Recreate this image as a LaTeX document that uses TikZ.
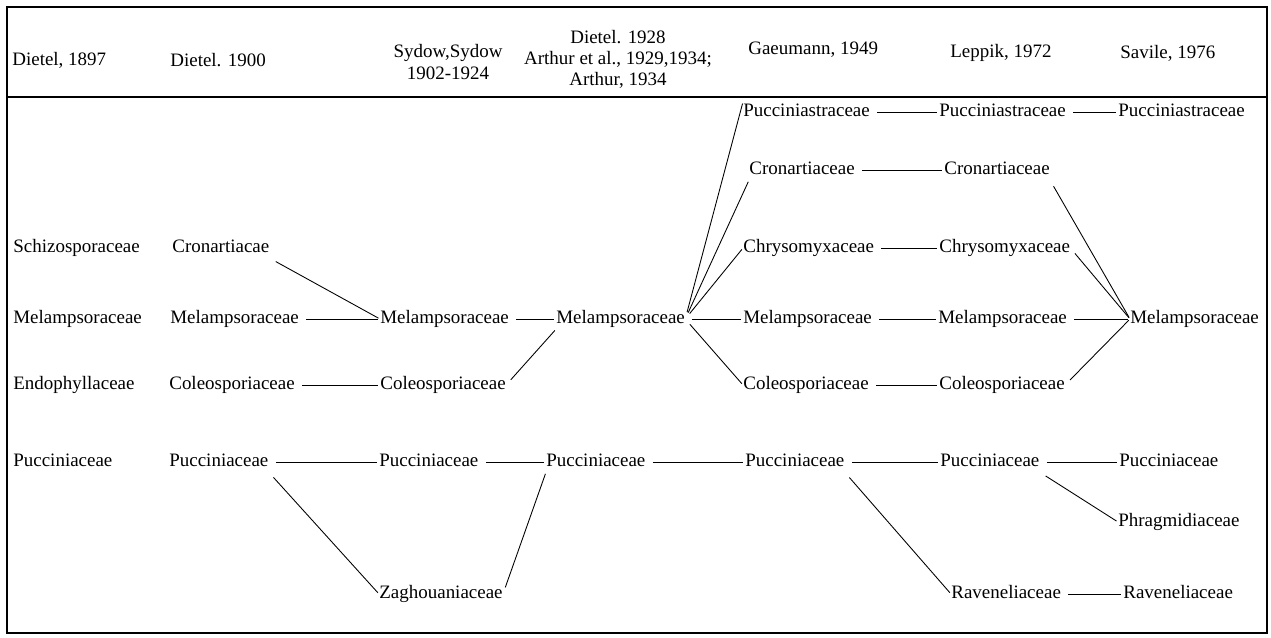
\documentclass[tikz,border=0pt]{standalone}
\usepackage{fontspec}
\setmainfont{Liberation Serif}

\begin{document}
\begin{tikzpicture}[x=0.02cm,y=-0.02cm,font=\fontsize{10.8}{12}\selectfont,
  fam/.style={anchor=west,inner xsep=0pt,inner ysep=1pt,text height=1.6ex,text depth=.4ex},
  hd/.style={align=center,inner sep=0pt},
  lnk/.style={line width=.5pt,shorten <=4pt,shorten >=1pt}]
\useasboundingbox (0,0) rectangle (1271,637);
\draw[line width=.9pt] (7,7) rectangle (1267,633);
\draw[line width=.9pt] (7,97)--(1267,97);
\node[hd,anchor=west] (h1) at (12,60) {Dietel, 1897};
\node[hd,anchor=west] (h2) at (170,60) {Dietel. 1900};
\node[hd] (h3) at (448,62) {Sydow,Sydow\\1902-1924};
\node[hd] (h4) at (618,59) {Dietel. 1928\\Arthur et al., 1929,1934;\\Arthur, 1934};
\node[hd,anchor=west] (h5) at (748,50) {Gaeumann, 1949};
\node[hd,anchor=west] (h6) at (950,53) {Leppik, 1972};
\node[hd,anchor=west] (h7) at (1120,53) {Savile, 1976};
\node[fam] (asch) at (13,248) {Schizosporaceae};
\node[fam] (amel) at (13,319) {Melampsoraceae};
\node[fam] (aend) at (13,385) {Endophyllaceae};
\node[fam] (apuc) at (13,462) {Pucciniaceae};
\node[fam] (bcro) at (172,248) {Cronartiacae};
\node[fam] (bmel) at (170,319) {Melampsoraceae};
\node[fam] (bcol) at (169,385) {Coleosporiaceae};
\node[fam] (bpuc) at (169,462) {Pucciniaceae};
\node[fam] (cmel) at (380,319) {Melampsoraceae};
\node[fam] (ccol) at (380,385) {Coleosporiaceae};
\node[fam] (cpuc) at (379,462) {Pucciniaceae};
\node[fam] (czag) at (379,594) {Zaghouaniaceae};
\node[fam] (dmel) at (556,319) {Melampsoraceae};
\node[fam] (dpuc) at (546,462) {Pucciniaceae};
\node[fam] (gpst) at (743,112) {Pucciniastraceae};
\node[fam] (gcro) at (749,170) {Cronartiaceae};
\node[fam] (gchr) at (743,248) {Chrysomyxaceae};
\node[fam] (gmel) at (743,319) {Melampsoraceae};
\node[fam] (gcol) at (743,385) {Coleosporiaceae};
\node[fam] (gpuc) at (745,462) {Pucciniaceae};
\node[fam] (lpst) at (939,112) {Pucciniastraceae};
\node[fam] (lcro) at (944,170) {Cronartiaceae};
\node[fam] (lchr) at (939,248) {Chrysomyxaceae};
\node[fam] (lmel) at (938,319) {Melampsoraceae};
\node[fam] (lcol) at (939,385) {Coleosporiaceae};
\node[fam] (lpuc) at (940,462) {Pucciniaceae};
\node[fam] (lrav) at (951,594) {Raveneliaceae};
\node[fam] (spst) at (1118,112) {Pucciniastraceae};
\node[fam] (smel) at (1130,319) {Melampsoraceae};
\node[fam] (spuc) at (1119,462) {Pucciniaceae};
\node[fam] (sphr) at (1118,522) {Phragmidiaceae};
\node[fam] (srav) at (1123,594) {Raveneliaceae};
\draw[lnk] (bcro.south east)--(cmel.west);
\draw[lnk] (bmel)--(cmel);
\draw[lnk] (cmel)--(dmel);
\draw[lnk] (bcol)--(ccol);
\draw[lnk] (ccol.east)--(dmel.south west);
\draw[lnk] (dmel.east)--(gpst.north west);
\draw[lnk] (dmel.east)--(gcro.south west);
\draw[lnk] (dmel.east)--(gchr.west);
\draw[lnk] (dmel)--(gmel);
\draw[lnk] (dmel.east)--(gcol.west);
\draw[lnk] (gpst)--(lpst);
\draw[lnk] (lpst)--(spst);
\draw[lnk] (gcro)--(lcro);
\draw[lnk] (gchr)--(lchr);
\draw[lnk] (gmel)--(lmel);
\draw[lnk] (lmel)--(smel);
\draw[lnk] (gcol)--(lcol);
\draw[lnk] (lcro.south east)--(smel.west);
\draw[lnk] (lchr.east)--(smel.west);
\draw[lnk] (lcol.east)--(smel.west);
\draw[lnk] (bpuc)--(cpuc);
\draw[lnk] (cpuc)--(dpuc);
\draw[lnk] (dpuc)--(gpuc);
\draw[lnk] (gpuc)--(lpuc);
\draw[lnk] (lpuc)--(spuc);
\draw[lnk] (bpuc.south east)--(czag.west);
\draw[lnk] (czag.east)--(dpuc.south west);
\draw[lnk] (gpuc.south east)--(lrav.west);
\draw[lnk] (lpuc.south east)--(sphr.west);
\draw[lnk] (lrav)--(srav);
\end{tikzpicture}
\end{document}
